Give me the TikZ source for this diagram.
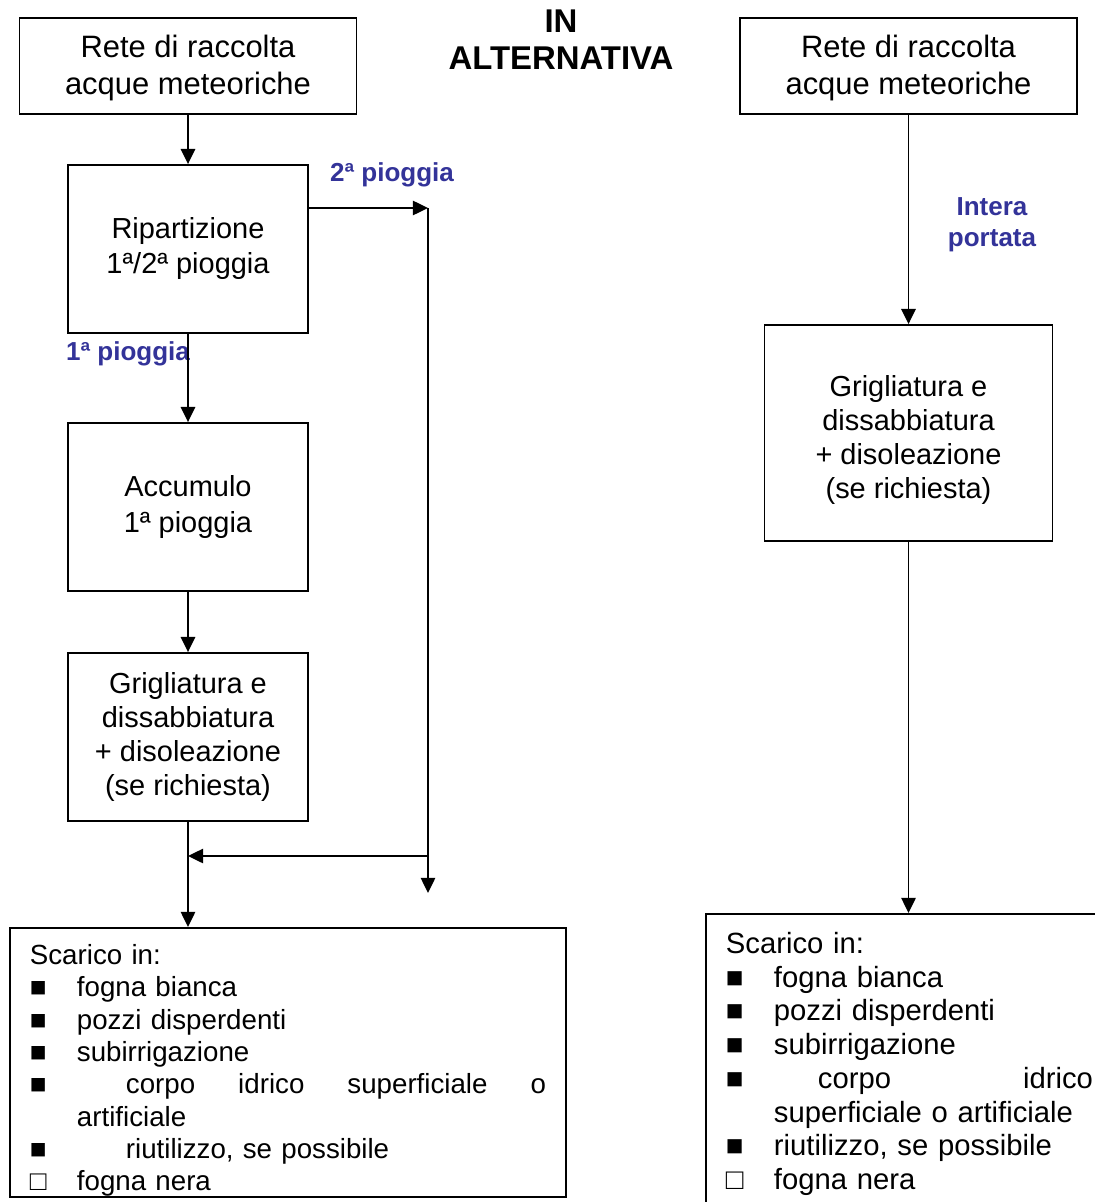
\documentclass[tikz,border=0pt]{standalone}
\usepackage{fontspec}
\setmainfont{Liberation Sans}
\usetikzlibrary{positioning,arrows.meta}
\definecolor{rainblue}{HTML}{333399}

\begin{document}
\begin{tikzpicture}[x=0.025cm, y=-0.025cm,
  box/.style={draw, line width=1.3pt, align=center, inner sep=0pt, font=\fontsize{20.6}{24}\selectfont},
  listbox/.style={draw, line width=1.3pt, align=left, anchor=north west, inner xsep=0.5cm, inner ysep=0pt},
  flow/.style={line width=1.3pt, -{Triangle[length=0.38cm, width=0.36cm]}},
  tag/.style={font=\fontsize{18.5}{22}\selectfont\bfseries\color{rainblue}, align=center},
]
\def\u{0.025cm}
\useasboundingbox (0,0) rectangle (1095,1202);
\clip (0,0) rectangle (1095,1202);
\node[font=\fontsize{23.4}{26.5}\selectfont\bfseries, align=center] (alt) at (561,40) {IN\\ALTERNATIVA};
\node[box, font=\fontsize{22}{26.3}\selectfont, minimum width=337*\u, minimum height=96*\u] (rete) at (188,66) {\rule{0pt}{19pt}Rete di raccolta\\acque meteoriche};
\node[box, font=\fontsize{20.6}{24.9}\selectfont, minimum width=240*\u, minimum height=168*\u] (ripart) at (188,249) {Ripartizione\\1ª/2ª pioggia};
\node[box, font=\fontsize{20.6}{24.9}\selectfont, minimum width=240*\u, minimum height=168*\u] (accum) at (188,507) {Accumulo\\1ª pioggia};
\node[box, minimum width=240*\u, minimum height=168*\u] (grigl) at (188,737) {Grigliatura e\\dissabbiatura\\+ disoleazione\\(se richiesta)};
\node[listbox, text width=12.9cm, minimum width=556*\u, minimum height=269*\u,
  font=\fontsize{19.7}{22.97}\selectfont] (scarico) at (9,927) {\rule{0pt}{25.8pt}Scarico in:\\
  \makebox[1.175cm][l]{■}fogna bianca\\
  \makebox[1.175cm][l]{■}pozzi disperdenti\\
  \makebox[1.175cm][l]{■}subirrigazione\\
  \makebox[1.175cm][l]{■}\makebox[11.725cm][s]{\hspace*{1.225cm}corpo\hfill idrico\hfill superficiale\hfill o}\\
  \hspace*{1.175cm}artificiale\\
  \makebox[1.175cm][l]{■}\hspace*{1.225cm}riutilizzo, se possibile\\
  \makebox[1.175cm][l]{□}fogna nera};
\node[box, font=\fontsize{22}{26.3}\selectfont, minimum width=337*\u, minimum height=96*\u] (reteR) at (908.5,66) {\rule{0pt}{19pt}Rete di raccolta\\acque meteoriche};
\node[box, font=\fontsize{20.6}{24.2}\selectfont, minimum width=288*\u, minimum height=216*\u] (griglR) at (908.5,433) {\rule{0pt}{25pt}Grigliatura e\\dissabbiatura\\+ disoleazione\\(se richiesta)};
\node[listbox, text width=9.5cm, minimum width=420*\u, minimum height=300*\u,
  font=\fontsize{20.8}{23.97}\selectfont] (scaricoR) at (705,913) {Scarico in:\\
  \makebox[1.2cm][l]{■}fogna bianca\\
  \makebox[1.2cm][l]{■}pozzi disperdenti\\
  \makebox[1.2cm][l]{■}subirrigazione\\
  \makebox[1.2cm][l]{■}\makebox[7.975cm][s]{\hspace*{1.1cm}corpo\hfill idrico}\\
  \hspace*{1.2cm}superficiale o artificiale\\
  \makebox[1.2cm][l]{■}riutilizzo, se possibile\\
  \makebox[1.2cm][l]{□}fogna nera};
\node[tag] (second) at (392,175) {2ª pioggia};
\node[tag] (first) at (128,354) {1ª pioggia};
\node[tag] (intera) at (992,225) {Intera\\portata};
\coordinate (split) at (428,208);
\coordinate (bypass) at (428,893);
\coordinate (merge) at (188,856);
\draw[flow] (rete) -- (ripart);
\draw[flow] (ripart) -- (accum);
\draw[flow] (accum) -- (grigl);
\draw[flow] (ripart.east |- split) -- (split);
\draw[flow] (split) -- (bypass);
\draw[flow] (split |- merge) -- (merge);
\draw[flow] (grigl.south) -- (grigl.south |- scarico.north);
\draw[flow] (reteR) -- (griglR);
\draw[flow] (griglR.south) -- (griglR.south |- scaricoR.north);
\end{tikzpicture}
\end{document}
